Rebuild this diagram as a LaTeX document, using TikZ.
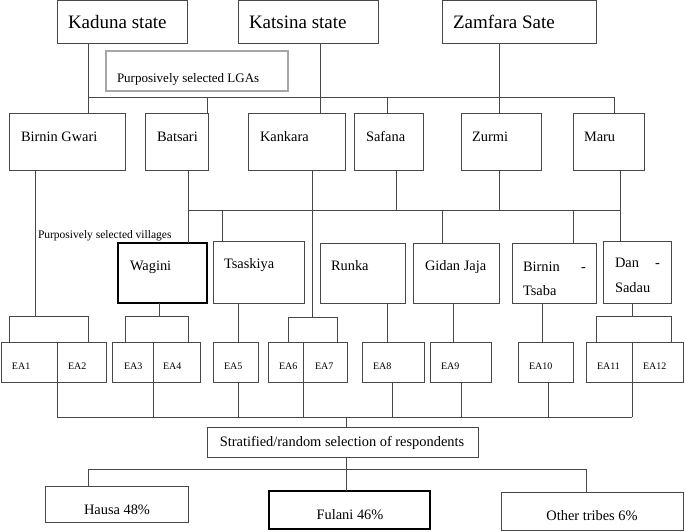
\documentclass[tikz,border=0pt]{standalone}
\usepackage{fontspec}
\setmainfont{Liberation Serif}
\begin{document}
\begin{tikzpicture}[x=1pt,y=-1pt,
  bx/.style={draw=black!72, line width=0.8pt, inner sep=0pt, outer sep=0pt, anchor=north west},
  thickbx/.style={bx, draw=black, line width=1.8pt},
  graybx/.style={bx, draw=black!35, line width=1.4pt},
  ln/.style={draw=black!72, line width=0.8pt},
  t/.style={inner sep=0pt, outer sep=0pt, anchor=base west, text=black},
  tc/.style={t, anchor=base},
  fstate/.style={font=\fontsize{19}{23}\selectfont},
  fmain/.style={font=\fontsize{14.4}{17}\selectfont},
  flga/.style={font=\fontsize{13}{15}\selectfont},
  fvil/.style={font=\fontsize{11.5}{13}\selectfont},
  fea/.style={font=\fontsize{10}{12}\selectfont}
]
\useasboundingbox (0,0) rectangle (685,531);
\newcommand{\mybox}[6][bx]{\node[#1, minimum width={(#5-#3)*1pt}, minimum height={(#6-#4)*1pt}] (#2) at (#3,#4) {};}
% states
\mybox{kad}{57}{0.5}{187}{43}
\mybox{kat}{238}{0.5}{378}{43}
\mybox{zam}{442}{0.5}{596}{43}
\node[t,fstate] (kadt) at (68,28) {Kaduna state};
\node[t,fstate] (katt) at (249,28) {Katsina state};
\node[t,fstate] (zamt) at (453,28) {Zamfara Sate};
% LGA label
\mybox[graybx]{lga}{106}{51}{288}{91}
\node[t,flga] (lgat) at (117,82) {Purposively selected LGAs};
% LGAs
\mybox{bg}{9}{113}{125}{170}
\mybox{bat}{145}{113}{208}{170}
\mybox{kan}{248}{113}{345}{170}
\mybox{saf}{354}{113}{423}{170}
\mybox{zur}{461}{113}{541}{170}
\mybox{maru}{573}{113}{644}{170}
\node[t,fmain] (bgt) at (21,141) {Birnin Gwari};
\node[t,fmain] (batt) at (157,141) {Batsari};
\node[t,fmain] (kant) at (260,141) {Kankara};
\node[t,fmain] (saft) at (366,141) {Safana};
\node[t,fmain] (zurt) at (472,141) {Zurmi};
\node[t,fmain] (marut) at (584,141) {Maru};
% villages
\node[t,fvil] (vilt) at (38,238) {Purposively selected villages};
\mybox[thickbx]{wag}{118}{243}{207}{303}
\mybox{tsa}{213}{241}{304}{303}
\mybox{run}{320}{243}{405}{303}
\mybox{gid}{413}{243}{499}{303}
\mybox{bts}{512}{243}{596}{303}
\mybox{dan}{603}{241}{671}{303}
\node[t,fmain] (wagt) at (130,270) {Wagini};
\node[t,fmain] (tsat) at (224,268) {Tsaskiya};
\node[t,fmain] (runt) at (331,270) {Runka};
\node[t,fmain] (gidt) at (425,270) {Gidan Jaja};
\node[t,fmain,text width=63pt,align=left] (btst) at (523,271) {Birnin\hfill-};
\node[t,fmain] (btst2) at (523,295) {Tsaba};
\node[t,fmain,text width=45pt,align=left] (dant) at (615,267) {Dan\hfill-};
\node[t,fmain] (dant2) at (615,292) {Sadau};
% EAs
\mybox{ea1}{1}{342}{57}{382}
\mybox{ea2}{57}{342}{106}{382}
\mybox{ea3}{112}{342}{153}{382}
\mybox{ea4}{153}{342}{200}{382}
\mybox{ea5}{213}{342}{258}{382}
\mybox{ea6}{268}{342}{303}{382}
\mybox{ea7}{303}{342}{347}{382}
\mybox{ea8}{362}{342}{424}{382}
\mybox{ea9}{430}{342}{491}{382}
\mybox{ea10}{518}{342}{573}{382}
\mybox{ea11}{586}{342}{632}{382}
\mybox{ea12}{632}{342}{683}{382}
\node[t,fea] (ea1t) at (12,369) {EA1};
\node[t,fea] (ea2t) at (68,369) {EA2};
\node[t,fea] (ea3t) at (124,369) {EA3};
\node[t,fea] (ea4t) at (163,369) {EA4};
\node[t,fea] (ea5t) at (224,369) {EA5};
\node[t,fea] (ea6t) at (279,369) {EA6};
\node[t,fea] (ea7t) at (315,369) {EA7};
\node[t,fea] (ea8t) at (373,369) {EA8};
\node[t,fea] (ea9t) at (441,369) {EA9};
\node[t,fea] (ea10t) at (529,369) {EA10};
\node[t,fea] (ea11t) at (597,369) {EA11};
\node[t,fea] (ea12t) at (643,369) {EA12};
% bottom
\mybox{strat}{207}{427}{478}{457}
\node[tc,fmain] (stratt) at (342,446) {Stratified/random selection of respondents};
\mybox{hau}{45}{486}{188}{522}
\mybox[thickbx]{ful}{269}{491}{430}{529}
\mybox{oth}{501}{492}{683}{530.5}
\node[tc,fmain] (haut) at (117,514) {Hausa 48\%};
\node[tc,fmain] (fult) at (350,519) {Fulani 46\%};
\node[tc,fmain] (otht) at (592,520) {Other tribes 6\%};
% ---- connectors ----
\coordinate (b1) at (88,97); \coordinate (b2) at (207,97); \coordinate (b3) at (320,97);
\coordinate (b4) at (387,97); \coordinate (b5) at (499,97); \coordinate (b6) at (614,97);
\draw[ln] (kad.south -| b1) -- (bg.north -| b1);
\draw[ln] (kat.south -| b3) -- (kan.north -| b3);
\draw[ln] (zam.south -| b5) -- (zur.north -| b5);
\draw[ln] (b1) -- (b6);
\draw[ln] (b2) -- (bat.north -| b2);
\draw[ln] (b4) -- (saf.north -| b4);
\draw[ln] (b6) -- (maru.north -| b6);
\coordinate (c1) at (188,210); \coordinate (c2) at (222,210); \coordinate (c3) at (396,210);
\coordinate (c4) at (442,210); \coordinate (c5) at (499,210); \coordinate (c6) at (573,210);
\coordinate (c7) at (620,210);
\draw[ln] (bat.south -| c1) -- (wag.north -| c1);
\draw[ln] (c1) -- (c7);
\draw[ln] (c2) -- (tsa.north -| c2);
\draw[ln] (saf.south -| c3) -- (c3);
\draw[ln] (zur.south -| c5) -- (c5);
\draw[ln] (c4) -- (gid.north -| c4);
\draw[ln] (c6) -- (bts.north -| c6);
\draw[ln] (maru.south -| c7) -- (dan.north -| c7);
% brackets
\coordinate (d1) at (35,316); \coordinate (d1l) at (9,316); \coordinate (d1r) at (88,316);
\draw[ln] (bg.south -| d1) -- (d1);
\draw[ln] (ea1.north -| d1l) -- (d1l) -- (d1r) -- (ea2.north -| d1r);
\coordinate (d2) at (159,316); \coordinate (d2l) at (125,316); \coordinate (d2r) at (188,316);
\draw[ln] (wag.south -| d2) -- (d2);
\draw[ln] (ea3.north -| d2l) -- (d2l) -- (d2r) -- (ea4.north -| d2r);
\coordinate (d3) at (312,317); \coordinate (d3l) at (288,317); \coordinate (d3r) at (337,317);
\draw[ln] (kan.south -| d3) -- (d3);
\draw[ln] (ea6.north -| d3l) -- (d3l) -- (d3r) -- (ea7.north -| d3r);
\coordinate (d4) at (632,316); \coordinate (d4l) at (596,316); \coordinate (d4r) at (671,316);
\draw[ln] (dan.south -| d4) -- (d4);
\draw[ln] (ea11.north -| d4l) -- (d4l) -- (d4r) -- (ea12.north -| d4r);
\coordinate (x5) at (238,342); \coordinate (x8) at (387,342);
\coordinate (x9) at (453,342); \coordinate (x10) at (542,342);
\draw[ln] (tsa.south -| x5) -- (ea5.north -| x5);
\draw[ln] (run.south -| x8) -- (ea8.north -| x8);
\draw[ln] (gid.south -| x9) -- (ea9.north -| x9);
\draw[ln] (bts.south -| x10) -- (ea10.north -| x10);
% bottom bus
\coordinate (g1) at (57,417); \coordinate (g2) at (153,417); \coordinate (g3) at (238,417);
\coordinate (g4) at (303,417); \coordinate (g5) at (392,417); \coordinate (g6) at (461,417);
\coordinate (g7) at (548,417); \coordinate (g8) at (632,417); \coordinate (g0) at (346,417);
\draw[ln] (ea1.south east) -- (g1);
\draw[ln] (ea3.south east) -- (g2);
\draw[ln] (ea5.south -| g3) -- (g3);
\draw[ln] (ea6.south east) -- (g4);
\draw[ln] (ea8.south -| g5) -- (g5);
\draw[ln] (ea9.south -| g6) -- (g6);
\draw[ln] (ea10.south -| g7) -- (g7);
\draw[ln] (ea11.south east) -- (g8);
\draw[ln] (g1) -- (g8);
\draw[ln] (g0) -- (strat.north -| g0);
\coordinate (h1) at (88,469); \coordinate (h2) at (346,469); \coordinate (h3) at (586,469);
\draw[ln] (strat.south -| h2) -- (ful.north -| h2);
\draw[ln] (h1) -- (h3);
\draw[ln] (h1) -- (hau.north -| h1);
\draw[ln] (h3) -- (oth.north -| h3);
\end{tikzpicture}
\end{document}
